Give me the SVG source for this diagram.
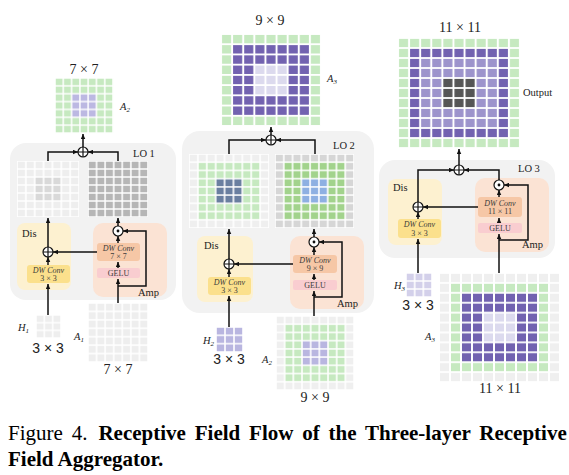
<svg xmlns="http://www.w3.org/2000/svg" width="569" height="475" viewBox="0 0 569 475">
<style>
.ln{fill:none;stroke:#111;stroke-width:1.5;marker-end:url(#ar)}
.lo{fill:#f2f2f2}
.dis{fill:#fdf1d0}
.amp{fill:#fbe3d4}
.dw3{fill:#fbe08c}
.dwk{fill:#f6c7a6}
.gelu{fill:#f9cdd0}
.t{font-family:"Liberation Serif",serif;fill:#222}
.s{font-family:"Liberation Sans",sans-serif;fill:#222}
.it{font-style:italic}
.bx{font-family:"Liberation Serif",serif;font-size:8px;fill:#3a3a3a;text-anchor:middle}
.op{fill:#fff;stroke:#111;stroke-width:1.2}
</style>
<defs>
<pattern id="cell" width="10" height="10" patternUnits="userSpaceOnUse"><rect width="10" height="10" fill="none" stroke="#fff" stroke-width="1.8"/></pattern>
<marker id="ar" viewBox="0 0 10 10" refX="10" refY="5" markerWidth="5" markerHeight="5" markerUnits="userSpaceOnUse" orient="auto"><path d="M0,0.5L10,5L0,9.5z" fill="#111"/></marker>
<g id="oplus"><circle r="5" class="op"/><path d="M-5 0H5M0 -5V5" stroke="#111" stroke-width="1.2"/></g>
<g id="odot"><circle r="5" class="op"/><circle r="1.4" fill="#111"/></g>
</defs>
<rect width="569" height="475" fill="#fff"/>

<!-- panel backgrounds -->
<g id="lo1-panel"><rect x="10" y="143" width="166" height="157" rx="16" class="lo"/><text x="133" y="157" class="t" font-size="10.5">LO 1</text></g>
<g id="lo2-panel"><rect x="182" y="131" width="192" height="182" rx="18" class="lo"/><text x="333" y="149" class="t" font-size="10.5">LO 2</text></g>
<g id="lo3-panel"><rect x="379" y="160" width="176" height="98" rx="16" class="lo"/><text x="518" y="172" class="t" font-size="10.5">LO 3</text></g>

<!-- Panel 1 -->
<g id="grid-a2-top" transform="translate(55,78) scale(0.829,0.786)">
<rect width="70" height="70" fill="#c6e9c0"/><rect x="20" y="20" width="30" height="30" fill="#bcb8e2"/><rect width="70" height="70" fill="url(#cell)"/></g>
<text x="84" y="74" class="t" font-size="14" text-anchor="middle">7 × 7</text>
<text x="120" y="110" class="t it" font-size="10.5">A<tspan font-size="7" dy="2">2</tspan></text>

<g id="lo1-left" transform="translate(17,161) scale(0.886,0.8)">
<rect width="70" height="70" fill="#eeeeee"/><rect x="20" y="20" width="30" height="30" fill="#d9d9d9"/><rect width="70" height="70" fill="url(#cell)"/></g>
<g id="lo1-right" transform="translate(88,161) scale(0.857,0.8)">
<rect width="70" height="70" fill="#b6b6b6"/><rect width="70" height="70" fill="url(#cell)"/></g>

<g id="dis1"><rect x="17" y="223" width="54" height="67" rx="8" class="dis"/><text x="22" y="237" class="t" font-size="10.5">Dis</text>
<rect x="27" y="265" width="43" height="18" rx="3" class="dw3"/><text x="48.5" y="273" class="bx it">DW Conv</text><text x="48.5" y="281" class="bx">3 × 3</text></g>
<g id="amp1"><rect x="93" y="223" width="74" height="74" rx="10" class="amp"/><text x="138" y="296" class="t" font-size="10.5">Amp</text>
<rect x="97" y="243" width="43" height="18" rx="3" class="dwk"/><text x="118.5" y="251" class="bx it">DW Conv</text><text x="118.5" y="259" class="bx">7 × 7</text>
<rect x="97" y="268" width="43" height="10" rx="2" class="gelu"/><text x="118.5" y="276" class="bx">GELU</text></g>

<g id="h1" transform="translate(36,315) scale(0.833,0.767)"><rect width="30" height="30" fill="#eeeeee"/><rect width="30" height="30" fill="url(#cell)"/></g>
<text x="18" y="331" class="t it" font-size="10.5">H<tspan font-size="7" dy="2">1</tspan></text>
<text x="48" y="353" class="s" font-size="14" text-anchor="middle">3 × 3</text>
<g id="a1" transform="translate(88,303) scale(0.857,0.843)"><rect width="70" height="70" fill="#eeeeee"/><rect width="70" height="70" fill="url(#cell)"/></g>
<text x="74" y="340" class="t it" font-size="10.5">A<tspan font-size="7" dy="2">1</tspan></text>
<text x="118" y="374" class="t" font-size="14" text-anchor="middle">7 × 7</text>

<!-- Panel 2 -->
<g id="grid-a3-top" transform="translate(221,34) scale(1.111,1.022)">
<rect width="90" height="90" fill="#c6e9c0"/><rect x="10" y="10" width="70" height="70" fill="#7262b0"/><rect x="30" y="30" width="30" height="30" fill="#dcdaee"/><rect width="90" height="90" fill="url(#cell)"/></g>
<text x="270" y="25" class="t" font-size="14" text-anchor="middle">9 × 9</text>
<text x="327" y="82" class="t it" font-size="10.5">A<tspan font-size="7" dy="2">3</tspan></text>

<g id="lo2-left" transform="translate(189,154) scale(0.889,0.822)">
<rect width="90" height="90" fill="#efefef"/><rect x="10" y="10" width="70" height="70" fill="#c6e9c0"/><rect x="30" y="30" width="30" height="30" fill="#6a7fa0"/><rect width="90" height="90" fill="url(#cell)"/></g>
<g id="lo2-right" transform="translate(275,154) scale(0.878,0.822)">
<rect width="90" height="90" fill="#d6d6d6"/><rect x="10" y="10" width="70" height="70" fill="#a2d38c"/><rect x="30" y="30" width="30" height="30" fill="#8eb0e2"/><rect width="90" height="90" fill="url(#cell)"/></g>

<g id="dis2"><rect x="197" y="236" width="56" height="66" rx="8" class="dis"/><text x="204" y="249" class="t" font-size="10.5">Dis</text>
<rect x="208" y="277" width="43" height="18" rx="3" class="dw3"/><text x="229.5" y="285" class="bx it">DW Conv</text><text x="229.5" y="293" class="bx">3 × 3</text></g>
<g id="amp2"><rect x="290" y="236" width="74" height="73" rx="10" class="amp"/><text x="337" y="307" class="t" font-size="10.5">Amp</text>
<rect x="293" y="255" width="44" height="18" rx="3" class="dwk"/><text x="315" y="263" class="bx it">DW Conv</text><text x="315" y="271" class="bx">9 × 9</text>
<rect x="293" y="280" width="44" height="10" rx="2" class="gelu"/><text x="315" y="288" class="bx">GELU</text></g>

<g id="h2" transform="translate(216,327) scale(0.9,0.833)"><rect width="30" height="30" fill="#b9b6e0"/><rect width="30" height="30" fill="url(#cell)"/></g>
<text x="203" y="344" class="t it" font-size="10.5">H<tspan font-size="7" dy="2">2</tspan></text>
<text x="229" y="364" class="s" font-size="14" text-anchor="middle">3 × 3</text>
<g id="a2-bottom" transform="translate(276,316) scale(0.867,0.822)">
<rect width="90" height="90" fill="#efefef"/><rect x="10" y="10" width="70" height="70" fill="#c6e9c0"/><rect x="30" y="30" width="30" height="30" fill="#b9b6e0"/><rect width="90" height="90" fill="url(#cell)"/></g>
<text x="262" y="363" class="t it" font-size="10.5">A<tspan font-size="7" dy="2">2</tspan></text>
<text x="315" y="402" class="t" font-size="14" text-anchor="middle">9 × 9</text>

<!-- Panel 3 -->
<g id="grid-output" transform="translate(398,38) scale(1.109,1.0)">
<rect width="110" height="110" fill="#c6e9c0"/><rect x="10" y="10" width="90" height="90" fill="#7262b0"/><rect x="20" y="20" width="70" height="70" fill="#9d94cc"/><rect x="40" y="40" width="30" height="30" fill="#555555"/><rect width="110" height="110" fill="url(#cell)"/></g>
<text x="460" y="32" class="t" font-size="14" text-anchor="middle">11 × 11</text>
<text x="523" y="96" class="t" font-size="10.5">Output</text>

<g id="dis3"><rect x="388" y="179" width="54" height="66" rx="8" class="dis"/><text x="393" y="191" class="t" font-size="10.5">Dis</text>
<rect x="398" y="219" width="43" height="19" rx="3" class="dw3"/><text x="419.5" y="227" class="bx it">DW Conv</text><text x="419.5" y="235.5" class="bx">3 × 3</text></g>
<g id="amp3"><rect x="475" y="178" width="74" height="74" rx="10" class="amp"/><text x="522" y="248" class="t" font-size="10.5">Amp</text>
<rect x="478" y="197" width="44" height="20" rx="3" class="dwk"/><text x="500" y="205.5" class="bx it">DW Conv</text><text x="500" y="214" class="bx">11 × 11</text>
<rect x="478" y="223" width="44" height="10" rx="2" class="gelu"/><text x="500" y="231" class="bx">GELU</text></g>

<g id="h3" transform="translate(406,273) scale(0.867,0.8)"><rect width="30" height="30" fill="#d3d0ea"/><rect width="30" height="30" fill="url(#cell)"/></g>
<text x="394" y="289" class="t it" font-size="10.5">H<tspan font-size="7" dy="2">3</tspan></text>
<text x="418" y="310" class="s" font-size="14" text-anchor="middle">3 × 3</text>
<g id="a3-bottom" transform="translate(439,273) scale(1.1,0.991)">
<rect width="110" height="110" fill="#efefef"/><rect x="10" y="10" width="90" height="90" fill="#c6e9c0"/><rect x="20" y="20" width="70" height="70" fill="#7262b0"/><rect x="40" y="40" width="30" height="30" fill="#dcdaee"/><rect width="110" height="110" fill="url(#cell)"/></g>
<text x="425" y="340" class="t it" font-size="10.5">A<tspan font-size="7" dy="2">3</tspan></text>
<text x="500" y="393" class="t" font-size="14" text-anchor="middle">11 × 11</text>

<!-- connectors -->
<g id="connectors">
<path class="ln" d="M48 161V152H78"/>
<path class="ln" d="M118 161V152H88"/>
<path class="ln" d="M83 147V134"/>
<path class="ln" d="M48 315V284"/>
<path class="ln" d="M48 265V257"/>
<path class="ln" d="M48 247V218"/>
<path class="ln" d="M97 252H53"/>
<path class="ln" d="M118 303V279"/>
<path class="ln" d="M118 286H146V231H123"/>
<path class="ln" d="M118 268V262"/>
<path class="ln" d="M118 243V236"/>
<path class="ln" d="M118 226V218"/>

<path class="ln" d="M229 154V140H266"/>
<path class="ln" d="M315 154V140H276"/>
<path class="ln" d="M271 135V127"/>
<path class="ln" d="M229 327V296"/>
<path class="ln" d="M229 277V269"/>
<path class="ln" d="M229 259V229"/>
<path class="ln" d="M293 264H234"/>
<path class="ln" d="M314 316V291"/>
<path class="ln" d="M314 280V274"/>
<path class="ln" d="M314 255V247"/>
<path class="ln" d="M314 237V229"/>
<path class="ln" d="M314 297H342V242H319"/>

<path class="ln" d="M418 202V170H454"/>
<path class="ln" d="M499 180V170H464"/>
<path class="ln" d="M459 165V149"/>
<path class="ln" d="M418 273V239"/>
<path class="ln" d="M418 219V212"/>
<path class="ln" d="M478 207H423"/>
<path class="ln" d="M499 273V234"/>
<path class="ln" d="M499 223V218"/>
<path class="ln" d="M499 197V190"/>
<path class="ln" d="M499 240H528V185H504"/>
</g>

<!-- operators -->
<g id="op-sum1"><use href="#oplus" x="83" y="152"/></g>
<g id="op-dis1"><use href="#oplus" x="48" y="252"/></g>
<g id="op-amp1"><use href="#odot" x="118" y="231"/></g>
<g id="op-sum2"><use href="#oplus" x="271" y="140"/></g>
<g id="op-dis2"><use href="#oplus" x="229" y="264"/></g>
<g id="op-amp2"><use href="#odot" x="314" y="242"/></g>
<g id="op-sum3"><use href="#oplus" x="459" y="170"/></g>
<g id="op-dis3"><use href="#oplus" x="418" y="207"/></g>
<g id="op-amp3"><use href="#odot" x="499" y="185"/></g>

<!-- caption -->
<g id="caption" font-family="'Liberation Serif',serif" font-size="21" fill="#000">
<text x="8" y="440" word-spacing="3.6">Figure 4.<tspan dx="11" font-weight="bold">Receptive Field Flow of the Three-layer Receptive</tspan></text>
<text x="8" y="466" font-weight="bold">Field Aggregator.</text>
</g>
</svg>
